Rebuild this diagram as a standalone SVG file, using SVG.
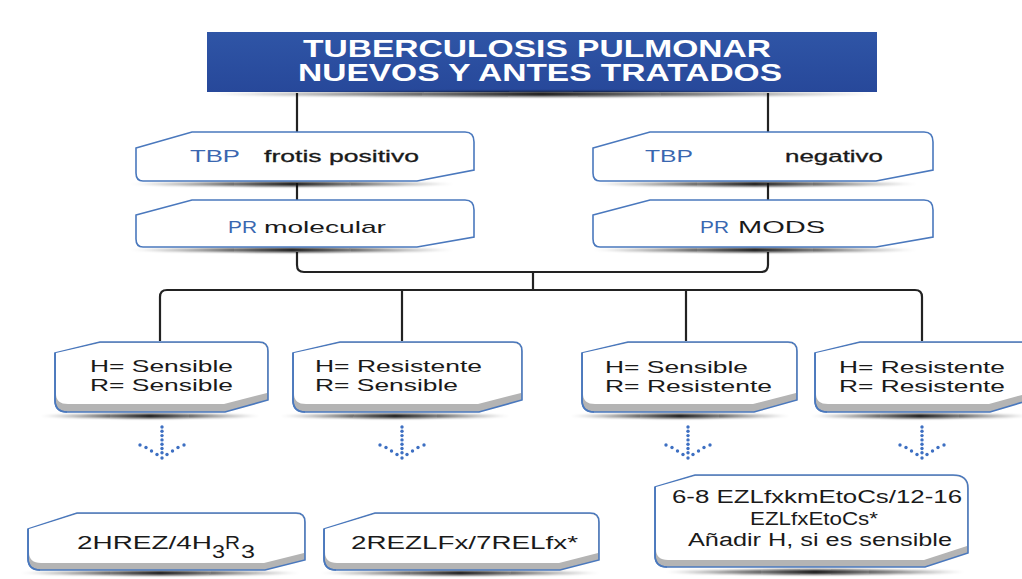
<svg xmlns="http://www.w3.org/2000/svg" width="1022" height="579" viewBox="0 0 1022 579">
<style>
.box{fill:#ffffff;stroke:#4a78bd;stroke-width:1.6}
.box3d{fill:#b4b4b4;stroke:#4a78bd;stroke-width:1.6}
.face{fill:#ffffff}
.edge{fill:none;stroke:#4a78bd;stroke-width:1.6}
.conn{fill:none;stroke:#222222;stroke-width:2.2;stroke-linejoin:round}
.t{font-family:"Liberation Sans",Arial,sans-serif;font-size:17px;fill:#1a1a1a}
.big{font-size:18px}
.b{fill:#3a67b0}
.title{font-family:"Liberation Sans",Arial,sans-serif;font-size:23px;font-weight:bold;fill:#ffffff}
.dot{fill:#3d6fc2}
.sh{fill:url(#shg);filter:url(#blur)}
</style>
<defs>
<linearGradient id="shg" x1="0" y1="0" x2="1" y2="0">
<stop offset="0" stop-color="#000" stop-opacity="0"/>
<stop offset="0.5" stop-color="#111" stop-opacity="0.95"/>
<stop offset="1" stop-color="#000" stop-opacity="0"/>
</linearGradient>
<linearGradient id="tbg" x1="0" y1="0" x2="0" y2="1">
<stop offset="0" stop-color="#2f55a6"/>
<stop offset="1" stop-color="#27489a"/>
</linearGradient>
<filter id="blur" x="-10%" y="-200%" width="120%" height="500%"><feGaussianBlur stdDeviation="1"/></filter>
<g id="dots">
<circle class="dot" cx="0" cy="0" r="1.7"/>
<circle class="dot" cx="0" cy="4.3" r="1.7"/>
<circle class="dot" cx="0" cy="8.6" r="1.7"/>
<circle class="dot" cx="0" cy="12.9" r="1.7"/>
<circle class="dot" cx="0" cy="17.2" r="1.7"/>
<circle class="dot" cx="0" cy="21.5" r="1.7"/>
<circle class="dot" cx="0" cy="25.8" r="1.7"/>
<circle class="dot" cx="0" cy="31" r="1.7"/>
<circle class="dot" cx="-22" cy="18" r="1.7"/>
<circle class="dot" cx="-16" cy="20.5" r="1.7"/>
<circle class="dot" cx="-10.5" cy="24" r="1.7"/>
<circle class="dot" cx="-5" cy="27.5" r="1.7"/>
<circle class="dot" cx="22" cy="18" r="1.7"/>
<circle class="dot" cx="16" cy="20.5" r="1.7"/>
<circle class="dot" cx="10.5" cy="24" r="1.7"/>
<circle class="dot" cx="5" cy="27.5" r="1.7"/>
</g>
</defs>
<rect x="0" y="0" width="1022" height="579" fill="#ffffff"/>

<g id="connectors">
<path class="conn" d="M297,93 V132"/>
<path class="conn" d="M768,93 V132"/>
<path class="conn" d="M297,183 V200"/>
<path class="conn" d="M768,183 V200"/>
<path class="conn" d="M297,252 V265 Q297,272 304,272 H761 Q768,272 768,265 V252"/>
<path class="conn" d="M533,272 V290"/>
<path class="conn" d="M160,341 V297 Q160,290 167,290 H915 Q922,290 922,297 V341"/>
<path class="conn" d="M402,290 V341"/>
<path class="conn" d="M686,290 V341"/>
</g>

<g id="title">
<rect x="207" y="32" width="670" height="60" fill="url(#tbg)"/>
<ellipse class="sh" cx="542" cy="94" rx="335" ry="2.5"/>
<text class="title" x="537" y="57" text-anchor="middle" textLength="468" lengthAdjust="spacingAndGlyphs">TUBERCULOSIS PULMONAR</text>
<text class="title" x="540" y="81" text-anchor="middle" textLength="484" lengthAdjust="spacingAndGlyphs">NUEVOS Y ANTES TRATADOS</text>
</g>

<g id="n-tbp-pos">
<ellipse class="sh" cx="292" cy="184" rx="162" ry="2.2"/>
<path class="box" d="M136,148 L192,132 H465 Q474,132 474,142 V170 L417,181 H143 Q136,181 136,173 Z"/>
<text class="t b" x="190" y="162" textLength="50" lengthAdjust="spacingAndGlyphs">TBP</text>
<text class="t" x="264" y="162" textLength="155" lengthAdjust="spacingAndGlyphs" stroke="#1a1a1a" stroke-width="0.3">frotis  positivo</text>
</g>

<g id="n-pr-mol">
<ellipse class="sh" cx="292" cy="250" rx="162" ry="2.2"/>
<path class="box" d="M136,215 L192,200 H465 Q474,200 474,210 V237 L417,247 H143 Q136,247 136,239 Z"/>
<text class="t b" x="228" y="233" textLength="29" lengthAdjust="spacingAndGlyphs">PR</text>
<text class="t" x="264" y="233" textLength="122" lengthAdjust="spacingAndGlyphs">molecular</text>
</g>

<g id="n-tbp-neg">
<ellipse class="sh" cx="755" cy="184" rx="162" ry="2.2"/>
<path class="box" d="M593,148 L650,132 H924 Q933,132 933,142 V170 L876,181 H600 Q593,181 593,173 Z"/>
<text class="t b" x="645" y="162" textLength="48" lengthAdjust="spacingAndGlyphs">TBP</text>
<text class="t" x="785" y="162" textLength="98" lengthAdjust="spacingAndGlyphs" stroke="#1a1a1a" stroke-width="0.3">negativo</text>
</g>

<g id="n-pr-mods">
<ellipse class="sh" cx="755" cy="250" rx="162" ry="2.2"/>
<path class="box" d="M593,215 L650,200 H924 Q933,200 933,210 V237 L876,247 H600 Q593,247 593,239 Z"/>
<text class="t b" x="700" y="233" textLength="29" lengthAdjust="spacingAndGlyphs">PR</text>
<text class="t" x="738" y="233" textLength="87" lengthAdjust="spacingAndGlyphs">MODS</text>
</g>

<g id="n-hs-rs">
<ellipse class="sh" cx="150" cy="416" rx="110" ry="2.2"/>
<path class="box3d" d="M55,353 L100,342 H259 Q268,342 268,351 V400 L225,412 H67 Q55,412 55,400 Z"/>
<path class="face" d="M56,353 L100,343 H259 Q267,343 267,351 V393 L224,404 H68 Q56,404 56,394 Z"/>
<path class="edge" d="M55,353 V400 Q55,412 67,412"/>
<text class="t" x="90" y="372" textLength="143" lengthAdjust="spacingAndGlyphs">H= Sensible</text>
<text class="t" x="90" y="391" textLength="143" lengthAdjust="spacingAndGlyphs">R= Sensible</text>
<use href="#dots" x="162" y="427"/>
</g>

<g id="n-hr-rs">
<ellipse class="sh" cx="395" cy="416" rx="115" ry="2.2"/>
<path class="box3d" d="M293,353 L340,342 H513 Q522,342 522,351 V400 L479,412 H305 Q293,412 293,400 Z"/>
<path class="face" d="M294,353 L340,343 H513 Q521,343 521,351 V393 L478,404 H306 Q294,404 294,394 Z"/>
<path class="edge" d="M293,353 V400 Q293,412 305,412"/>
<text class="t" x="315" y="372" textLength="167" lengthAdjust="spacingAndGlyphs">H= Resistente</text>
<text class="t" x="315" y="391" textLength="143" lengthAdjust="spacingAndGlyphs">R= Sensible</text>
<use href="#dots" x="402" y="427"/>
</g>

<g id="n-hs-rr">
<ellipse class="sh" cx="680" cy="416" rx="110" ry="2.2"/>
<path class="box3d" d="M582,353 L628,342 H788 Q797,342 797,351 V400 L754,412 H594 Q582,412 582,400 Z"/>
<path class="face" d="M583,353 L628,343 H788 Q796,343 796,351 V393 L753,404 H595 Q583,404 583,394 Z"/>
<path class="edge" d="M582,353 V400 Q582,412 594,412"/>
<text class="t" x="605" y="373" textLength="143" lengthAdjust="spacingAndGlyphs">H= Sensible</text>
<text class="t" x="605" y="392" textLength="167" lengthAdjust="spacingAndGlyphs">R= Resistente</text>
<use href="#dots" x="688" y="427"/>
</g>

<g id="n-hr-rr">
<ellipse class="sh" cx="920" cy="416" rx="110" ry="2.2"/>
<path class="box3d" d="M815,353 L860,342 H1021 Q1030,342 1030,351 V400 L990,412 H827 Q815,412 815,400 Z"/>
<path class="face" d="M816,353 L860,343 H1021 Q1029,343 1029,351 V393 L989,404 H828 Q816,404 816,394 Z"/>
<path class="edge" d="M815,353 V400 Q815,412 827,412"/>
<text class="t" x="839" y="373" textLength="166" lengthAdjust="spacingAndGlyphs">H= Resistente</text>
<text class="t" x="839" y="392" textLength="166" lengthAdjust="spacingAndGlyphs">R= Resistente</text>
<use href="#dots" x="922" y="427"/>
</g>

<g id="n-rx1">
<ellipse class="sh" cx="160" cy="573" rx="140" ry="2.2"/>
<path class="box3d" d="M28,529 L77,513 H296 Q305,513 305,522 V560 L265,570 H40 Q28,570 28,558 Z"/>
<path class="face" d="M29,529 L77,514 H296 Q304,514 304,522 V553 L264,563 H41 Q29,563 29,552 Z"/>
<path class="edge" d="M28,529 V558 Q28,570 40,570"/>
<text class="t big" x="77" y="549" textLength="135" lengthAdjust="spacingAndGlyphs">2HREZ/4H</text>
<text class="t big" x="212" y="558" textLength="13" lengthAdjust="spacingAndGlyphs">3</text>
<text class="t big" x="225" y="549" textLength="15" lengthAdjust="spacingAndGlyphs">R</text>
<text class="t big" x="241" y="558" textLength="14" lengthAdjust="spacingAndGlyphs">3</text>
</g>

<g id="n-rx2">
<ellipse class="sh" cx="460" cy="573" rx="140" ry="2.2"/>
<path class="box3d" d="M324,529 L375,513 H590 Q599,513 599,522 V560 L560,570 H336 Q324,570 324,558 Z"/>
<path class="face" d="M325,529 L375,514 H590 Q598,514 598,522 V553 L559,563 H337 Q325,563 325,552 Z"/>
<path class="edge" d="M324,529 V558 Q324,570 336,570"/>
<text class="t big" x="351" y="549" textLength="227" lengthAdjust="spacingAndGlyphs">2REZLFx/7RELfx*</text>
</g>

<g id="n-rx3">
<ellipse class="sh" cx="815" cy="572" rx="150" ry="2.5"/>
<path class="box3d" d="M655,487 L695,475 H953 Q968,475 968,488 V553 L925,567 H667 Q655,567 655,555 Z"/>
<path class="face" d="M656,487 L695,476 H953 Q967,476 967,488 V546 L924,560 H668 Q656,560 656,549 Z"/>
<path class="edge" d="M655,487 V555 Q655,567 667,567"/>
<text class="t big" x="672" y="503" textLength="290" lengthAdjust="spacingAndGlyphs">6-8 EZLfxkmEtoCs/12-16</text>
<text class="t big" x="750" y="525" textLength="128" lengthAdjust="spacingAndGlyphs">EZLfxEtoCs*</text>
<text class="t big" x="688" y="546" textLength="264" lengthAdjust="spacingAndGlyphs">Añadir H, si es sensible</text>
</g>
</svg>
